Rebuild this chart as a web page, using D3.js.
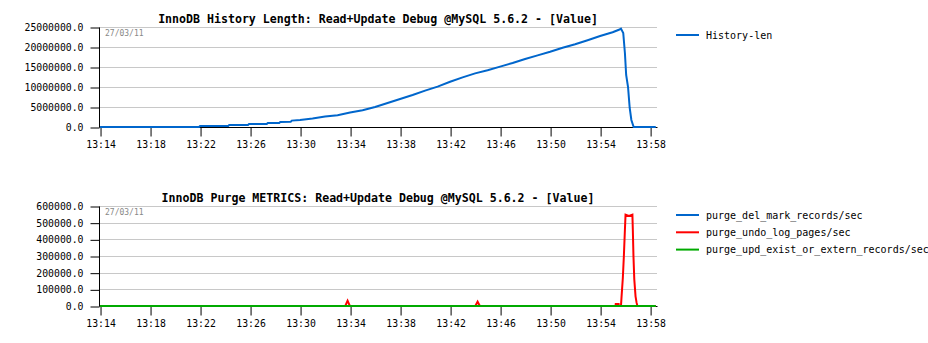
<!DOCTYPE html>
<html>
<head>
<meta charset="utf-8">
<script src="https://cdn.jsdelivr.net/npm/d3@7"></script>
<style>
  body { margin: 0; background: #fff; }
  text { font-family: "DejaVu Sans Mono", monospace; }
</style>
</head>
<body>
<div id="chart"></div>
<script>
// ------------------------------
//   InnoDB history / purge charts
// ------------------------------

// 1. Data
const xTickLabels = ["13:14","13:18","13:22","13:26","13:30","13:34","13:38","13:42","13:46","13:50","13:54","13:58"];

// History length (top chart)
const historyTimes = ["13:14:00","13:21:55","13:22:00","13:24:15","13:24:20","13:25:50","13:25:55","13:27:20","13:27:25",
  "13:28:20","13:28:25","13:29:15","13:29:20","13:30:00","13:31:00","13:32:00","13:33:00","13:34:00","13:35:00",
  "13:36:00","13:37:00","13:38:00","13:39:00","13:40:00","13:41:00","13:42:00","13:43:00","13:44:00","13:45:00",
  "13:46:00","13:47:00","13:48:00","13:49:00","13:50:00","13:51:00","13:52:00","13:53:00","13:54:00","13:55:00",
  "13:55:30","13:55:40","13:55:51","13:55:59","13:56:05","13:56:14","13:56:22","13:56:30","13:56:41","13:58:27"];
const historyLen = [0,0,250000,250000,500000,500000,750000,750000,1000000,
  1000000,1250000,1300000,1600000,1750000,2100000,2600000,2950000,3600000,4200000,
  5000000,6000000,7000000,8000000,9100000,10100000,11300000,12400000,13400000,14200000,
  15100000,16000000,17000000,17900000,18800000,19800000,20700000,21700000,22750000,23700000,
  24300000,24600000,23500000,18500000,13000000,10000000,4750000,1750000,0,0];

// Purge metrics (bottom chart)
const purgeTimes = ["13:14:00","13:33:37","13:33:48","13:33:59","13:44:01","13:44:12","13:44:23",
  "13:55:14","13:55:15","13:55:29","13:55:30","13:55:40","13:55:43","13:55:49","13:55:54","13:55:59",
  "13:56:02","13:56:18","13:56:35","13:56:37","13:56:40","13:56:44","13:56:50","13:56:55","13:56:59","13:58:27"];
const purgeDelMark   = purgeTimes.map(() => 0);
const purgeUndoLog   = [0,0,32000,0,0,26000,0,
  0,12000,12000,0,0,58000,168000,300000,458000,
  548000,540000,548000,458000,300000,160000,58000,20000,0,0];
const purgeUpdExist  = purgeTimes.map(() => 0);

// 2. Dimensions
const width = 928, height = 343;
const plotLeft = 99, plotRight = 657;

const parseTime = d3.timeParse("%H:%M:%S");
const parseTick = d3.timeParse("%H:%M");

const svg = d3.select("#chart").append("svg")
  .attr("width", width)
  .attr("height", height);

svg.append("rect").attr("width", width).attr("height", height).attr("fill", "#fff");

const x = d3.scaleTime()
  .domain([parseTime("13:13:55"), parseTime("13:58:33")])
  .range([plotLeft, plotRight]);

// 3. One panel = title, grid, axes, lines, legend
function drawPanel(cfg) {
  const y = d3.scaleLinear().domain([0, cfg.max]).range([cfg.bottom, cfg.top]);
  const g = svg.append("g");

  // grid
  g.selectAll("line.grid")
    .data(cfg.yTicks.slice(1))
    .enter().append("line")
      .attr("x1", plotLeft).attr("x2", plotRight)
      .attr("y1", d => Math.round(y(d)) + 0.5).attr("y2", d => Math.round(y(d)) + 0.5)
      .attr("stroke", "#c8c8c8").attr("stroke-width", 1);

  // y axis
  const yAxis = g.append("g")
    .attr("transform", `translate(${plotLeft + 0.5},0.5)`)
    .call(d3.axisLeft(y).tickValues(cfg.yTicks).tickSize(9).tickPadding(7)
      .tickFormat(d => d3.format(".1f")(d)));
  yAxis.select(".domain").attr("d", `M0,${cfg.top}V${cfg.bottom}`).attr("stroke", "#000");
  yAxis.selectAll("text").attr("font-size", "9.8px").attr("font-family", "DejaVu Sans Mono").attr("fill", "#000");

  // x axis
  const xAxis = g.append("g")
    .attr("transform", `translate(0.5,${Math.round(cfg.bottom) + 0.5})`)
    .call(d3.axisBottom(x).tickValues(xTickLabels.map(parseTick)).tickSize(9).tickPadding(5)
      .tickFormat(d3.timeFormat("%H:%M")));
  xAxis.select(".domain").attr("d", `M${plotLeft},0H${plotRight}`).attr("stroke", "#000");
  xAxis.selectAll("text").attr("font-size", "9.8px").attr("font-family", "DejaVu Sans Mono").attr("fill", "#000");

  // date stamp
  g.append("text")
    .attr("x", plotLeft + 6).attr("y", cfg.top + 9)
    .attr("font-size", "8px").attr("fill", "#888")
    .text("27/03/11");

  // title
  g.append("text")
    .attr("x", (plotLeft + plotRight) / 2).attr("y", cfg.top - 4)
    .attr("text-anchor", "middle")
    .attr("font-size", "11.6px").attr("font-weight", "bold")
    .text(cfg.title);

  // lines
  const line = d3.line()
    .x(d => x(d.t))
    .y(d => y(d.v));

  cfg.series.forEach(s => {
    const data = cfg.times.map((t, i) => ({ t: parseTime(t), v: s.values[i] }));
    g.append("path")
      .datum(data)
      .attr("fill", "none")
      .attr("stroke", s.color)
      .attr("stroke-width", 2)
      .attr("stroke-linejoin", "miter")
      .attr("d", line);
  });

  // legend
  cfg.series.forEach((s, i) => {
    const ly = cfg.legendY + i * 17.3;
    g.append("line")
      .attr("x1", 676).attr("x2", 699)
      .attr("y1", ly).attr("y2", ly)
      .attr("stroke", s.color).attr("stroke-width", 2);
    g.append("text")
      .attr("x", 706).attr("y", ly)
      .attr("dy", "0.35em")
      .attr("font-size", "10px")
      .text(s.name);
  });
}

drawPanel({
  title: "InnoDB History Length: Read+Update Debug @MySQL 5.6.2 - [Value]",
  top: 27, bottom: 127, max: 25000000,
  yTicks: [0, 5000000, 10000000, 15000000, 20000000, 25000000],
  times: historyTimes,
  legendY: 35,
  series: [{ name: "History-len", color: "#0066cc", values: historyLen }]
});

drawPanel({
  title: "InnoDB Purge METRICS: Read+Update Debug @MySQL 5.6.2 - [Value]",
  top: 206, bottom: 306, max: 600000,
  yTicks: [0, 100000, 200000, 300000, 400000, 500000, 600000],
  times: purgeTimes,
  legendY: 215,
  series: [
    { name: "purge_del_mark_records/sec", color: "#0066cc", values: purgeDelMark },
    { name: "purge_undo_log_pages/sec", color: "#ff0000", values: purgeUndoLog },
    { name: "purge_upd_exist_or_extern_records/sec", color: "#00aa00", values: purgeUpdExist }
  ]
});
</script>
</body>
</html>
